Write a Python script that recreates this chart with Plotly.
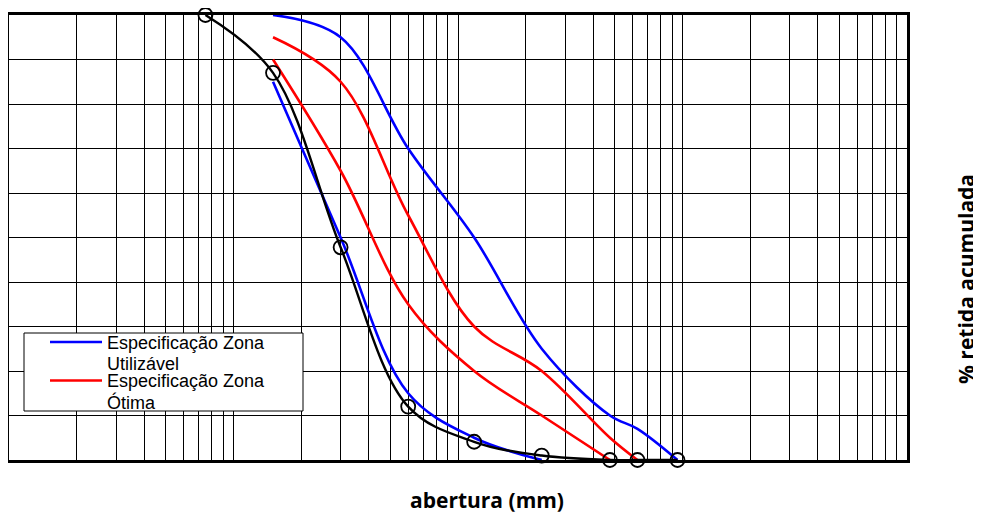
import plotly.graph_objects as go

# Sieve openings (mm)
aberturas = [0.075, 0.15, 0.3, 0.6, 1.18, 2.36, 4.75, 6.3, 9.5]

# Sample (% retida acumulada)
amostra = [100, 87, 47.8, 12, 4.1, 1, 0, 0, 0]

# Specification limits (% retida acumulada) for openings 0.15 .. 9.5
lim_aberturas = [0.15, 0.3, 0.6, 1.18, 2.36, 4.75, 6.3, 9.5]
utilizavel_sup = [100, 95, 70, 50, 25, 10, 7, 0]
utilizavel_inf = [85, 50, 15, 5, 0, None, None, None]
otima_sup = [95, 85, 55, 30, 20, 5, 0, None]
otima_inf = [90, 65, 35, 20, 10, 0, None, None]

legend_lines = [["Especificação Zona", "Utilizável"], ["Especificação Zona", "Ótima"]]
x_title = "abertura (mm)"
y_title = "% retida acumulada"

BLUE = "#0000FF"
RED = "#FF0000"


def clean(xs, ys):
    pts = [(x, y) for x, y in zip(xs, ys) if y is not None]
    return [p[0] for p in pts], [p[1] for p in pts]


fig = go.Figure()

for ys, color in [(utilizavel_sup, BLUE), (utilizavel_inf, BLUE),
                  (otima_sup, RED), (otima_inf, RED)]:
    xs, yv = clean(lim_aberturas, ys)
    fig.add_trace(go.Scatter(
        x=xs, y=yv, mode="lines",
        line=dict(color=color, width=2.6, shape="spline", smoothing=1.0),
        showlegend=False, cliponaxis=False, hoverinfo="skip"))

fig.add_trace(go.Scatter(
    x=aberturas, y=amostra, mode="lines+markers",
    line=dict(color="black", width=2.4, shape="spline", smoothing=1.0),
    marker=dict(symbol="circle-open", size=14, color="black",
                line=dict(color="black", width=1.8)),
    showlegend=False, cliponaxis=False))

# page has an 8px body margin; screen-pixel plot box is 9..907 x 15..460
OFF = 8
L, R, T, B = 9, 907, 15, 460
W, H = 981 - OFF, 514 - OFF


def px(p):
    return (p - L) / (R - L)


def py(p):
    return (B - p) / (B - T)


shapes = [
    dict(type="rect", xref="paper", yref="paper",
         x0=px(24), x1=px(303), y0=py(411), y1=py(333),
         fillcolor="white", line=dict(color="black", width=1), layer="above"),
    dict(type="line", xref="paper", yref="paper",
         x0=px(50), x1=px(102), y0=py(342), y1=py(342),
         line=dict(color=BLUE, width=2.6), layer="above"),
    dict(type="line", xref="paper", yref="paper",
         x0=px(50), x1=px(102), y0=py(380.5), y1=py(380.5),
         line=dict(color=RED, width=2.6), layer="above"),
]

leg_font = dict(family="Liberation Sans, Arial", size=18, color="black")
line_centers = [[342.5, 363.5], [380.5, 402]]
annotations = []
for entry, centers in zip(legend_lines, line_centers):
    for txt, yc in zip(entry, centers):
        annotations.append(dict(
            xref="paper", yref="paper", x=px(106), y=py(yc),
            xanchor="left", yanchor="middle", align="left",
            text=txt, showarrow=False, font=leg_font, borderpad=0))

annotations += [
    dict(xref="paper", yref="paper", x=px(487), y=py(500),
         xanchor="center", yanchor="middle", borderpad=0,
         text="<b>" + x_title + "</b>", showarrow=False,
         font=dict(family="Open Sans", size=21, color="black")),
    dict(xref="paper", yref="paper", x=px(966), y=py(279),
         xanchor="center", yanchor="middle", textangle=-90, borderpad=0,
         text="<b>" + y_title + "</b>", showarrow=False,
         font=dict(family="Open Sans", size=21, color="black")),
]

fig.update_layout(
    width=W, height=H,
    margin=dict(l=L - OFF, r=W - (R - OFF), t=T - OFF, b=H - (B - OFF), pad=0),
    paper_bgcolor="white", plot_bgcolor="white",
    shapes=shapes, annotations=annotations,
    showlegend=False,
)

fig.update_xaxes(
    type="log", range=[-2, 2], dtick="D1",
    showgrid=True, gridcolor="black", gridwidth=1,
    showticklabels=False, ticks="", zeroline=False,
    showline=True, linecolor="black", linewidth=2.5, mirror=True,
)
fig.update_yaxes(
    range=[0, 100], dtick=10,
    showgrid=True, gridcolor="black", gridwidth=1,
    showticklabels=False, ticks="", zeroline=False,
    showline=True, linecolor="black", linewidth=2.5, mirror=True,
)

fig.write_html("out.html")
